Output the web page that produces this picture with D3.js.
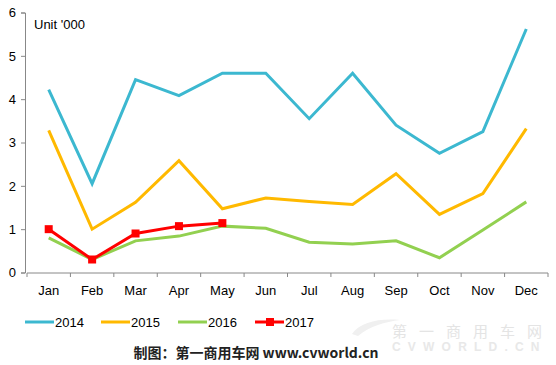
<!DOCTYPE html>
<html><head><meta charset="utf-8">
<script src="https://cdn.jsdelivr.net/npm/d3@7"></script>
<style>body{margin:0;background:#fff}svg{display:block;font-family:"Liberation Sans",Arial,sans-serif}</style>
</head><body><svg id="c" width="556" height="365"></svg>
<script>
const months = ["Jan","Feb","Mar","Apr","May","Jun","Jul","Aug","Sep","Oct","Nov","Dec"];
const s2014 = [4.22,2.05,4.45,4.08,4.6,4.6,3.55,4.6,3.4,2.75,3.25,5.62];
const s2015 = [3.28,1.0,1.62,2.58,1.47,1.72,1.64,1.57,2.28,1.34,1.82,3.32];
const s2016 = [0.8,0.3,0.73,0.84,1.07,1.02,0.7,0.66,0.73,0.34,0.98,1.63];
const s2017 = [1.0,0.3,0.9,1.07,1.14];
const yTicks = [0,1,2,3,4,5,6];
const seriesNames = ["2014","2015","2016","2017"];
const colors = ["#3cb8d0","#ffb900","#92d050","#ff0000"];

const svg = d3.select("#c");
const x = d3.scaleBand().domain(months).range([27,548]);
const y = d3.scaleLinear().domain([0,6]).range([272.5,12.5]);

// y axis
const ya = svg.append("g").attr("transform","translate(25,0)")
  .call(d3.axisLeft(y).tickValues(yTicks).tickFormat(d3.format("d")).tickSize(4).tickPadding(5));
ya.selectAll("text").attr("font-size",13).attr("fill","#000").attr("font-family","Liberation Sans, Arial");
ya.select(".domain").attr("stroke","#888");
ya.selectAll(".tick line").attr("stroke","#888");
// x axis
const xa = svg.append("g").attr("transform","translate(0,273)")
  .call(d3.axisBottom(x).tickSize(0).tickPadding(13));
xa.selectAll("text").attr("font-size",13).attr("fill","#000").attr("font-family","Liberation Sans, Arial");
xa.select(".domain").attr("stroke","#888").attr("d","M27,0H548");
// x ticks at band boundaries
const bounds = months.map(m=>x(m)).concat([x.range()[1]]);
svg.append("g").selectAll("line").data(bounds).join("line")
  .attr("x1",d=>d).attr("x2",d=>d).attr("y1",273).attr("y2",277).attr("stroke","#888");

svg.append("text").attr("x",34).attr("y",29).attr("font-size",13).text("Unit '000");

const line = d3.line().x((d,i)=>x(months[i])+x.bandwidth()/2).y(d=>y(d));
const all = [s2014,s2015,s2016,s2017];
all.forEach((s,k)=>{
  svg.append("path").attr("d",line(s)).attr("fill","none").attr("stroke",colors[k])
    .attr("stroke-width",3).attr("stroke-linejoin","miter");
});
svg.append("g").selectAll("rect").data(s2017).join("rect")
  .attr("x",(d,i)=>x(months[i])+x.bandwidth()/2-4).attr("y",d=>y(d)-4)
  .attr("width",8).attr("height",8).attr("fill","#ff0000");

// watermark
svg.append("path").attr("d","M352,334 C360,322 380,318 400,320 C385,322 370,326 358,336 Z").attr("fill","#f0f0f0");
svg.append("text").attr("x",392).attr("y",337).attr("font-size",15)
  .attr("fill","#e4e4e4").attr("letter-spacing",12).attr("font-family","Noto Sans CJK SC").text("第一商用车网");
svg.append("text").attr("x",392).attr("y",351).attr("font-size",12)
  .attr("font-weight","bold").attr("fill","#e8e8e8").attr("letter-spacing",7.2).text("CVWORLD.CN");

// legend
const lx = [25,101,178,255];
seriesNames.forEach((n,k)=>{
  const g = svg.append("g");
  g.append("line").attr("x1",lx[k]).attr("x2",lx[k]+29).attr("y1",322).attr("y2",322)
    .attr("stroke",colors[k]).attr("stroke-width",3);
  if(k===3) g.append("rect").attr("x",lx[k]+11).attr("y",318).attr("width",8).attr("height",8).attr("fill",colors[k]);
  g.append("text").attr("x",lx[k]+30).attr("y",327).attr("font-size",13).text(n);
});

svg.append("text").attr("x",256).attr("y",358).attr("text-anchor","middle").attr("font-size",14)
  .attr("font-weight","bold").attr("fill","#222").attr("font-family","Noto Sans CJK SC, Liberation Sans")
  .text("制图：第一商用车网 www.cvworld.cn");
</script></body></html>
